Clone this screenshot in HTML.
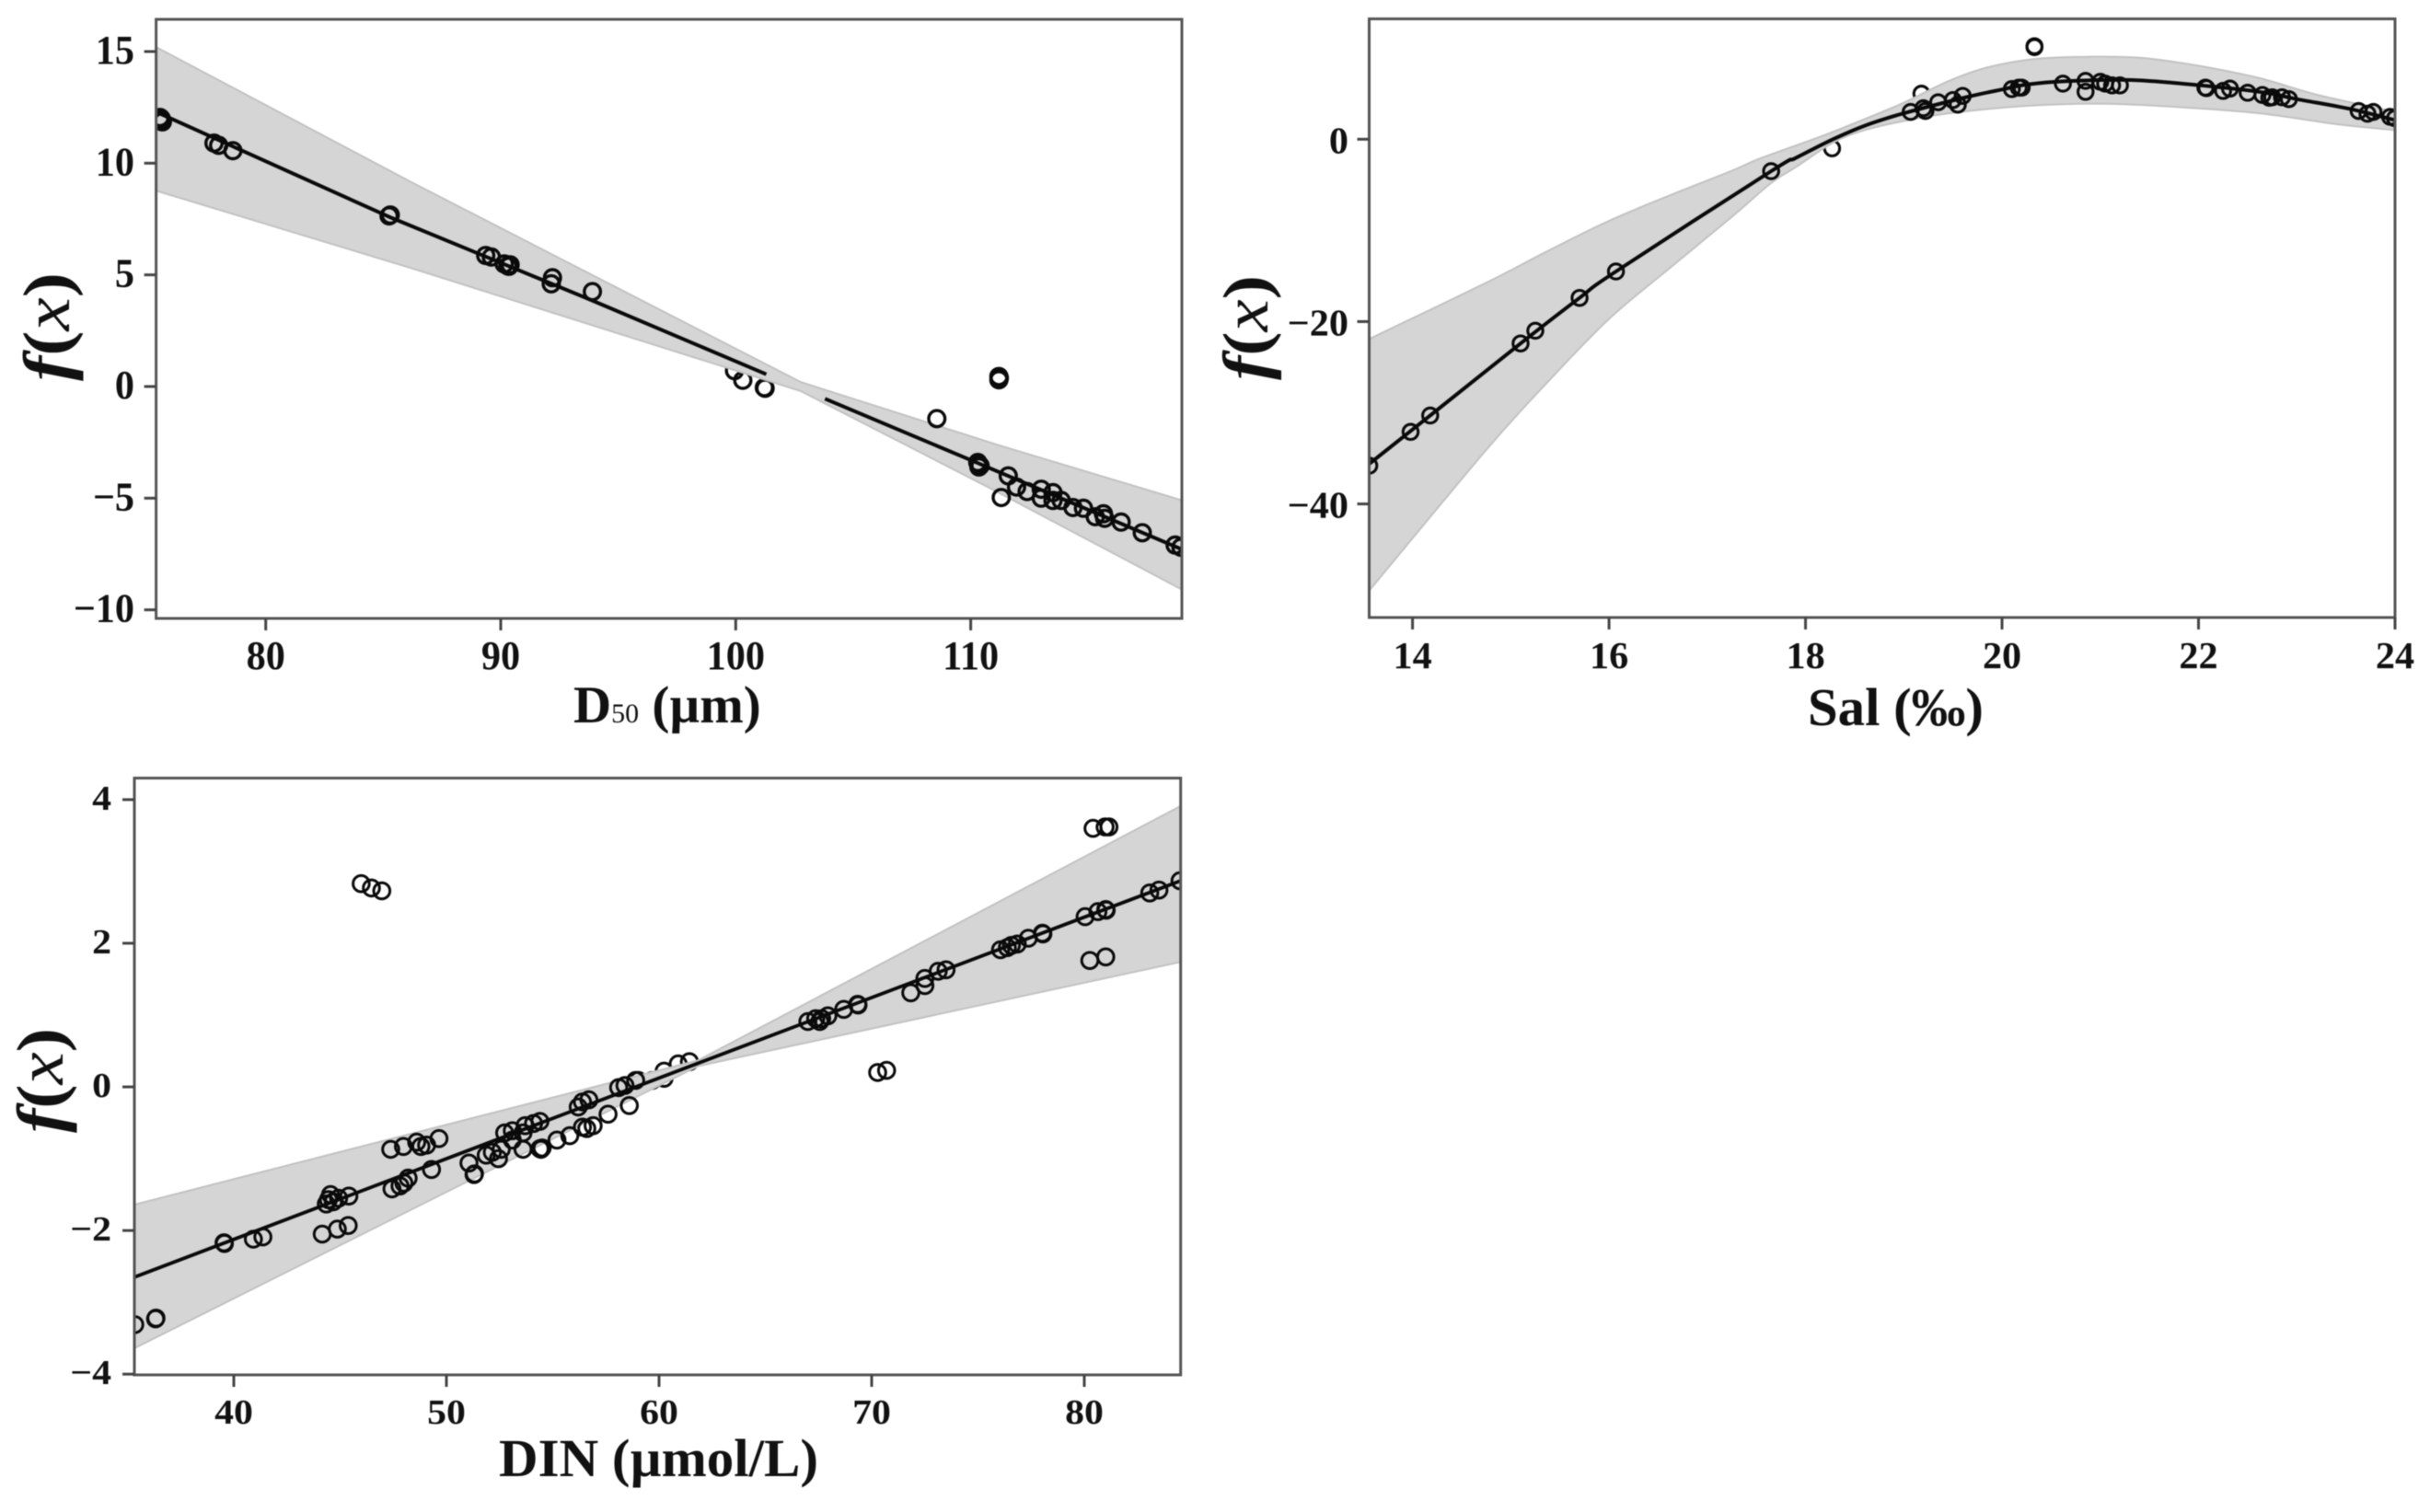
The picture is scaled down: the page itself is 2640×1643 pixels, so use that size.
<!DOCTYPE html>
<html lang="en">
<head>
<meta charset="utf-8">
<title>Partial effect plots</title>
<style>
html,body{margin:0;padding:0;background:#fff;width:2640px;height:1643px;overflow:hidden}
svg{display:block;filter:blur(0.45px)}
text{font-family:"Liberation Serif","DejaVu Serif",serif;fill:#111}
.axis-title{font-weight:bold}
</style>
</head>
<body>
<svg id="chart" xmlns="http://www.w3.org/2000/svg" width="2640" height="1643" viewBox="0 0 2640 1643">
  <rect width="2640" height="1643" fill="#fff"/>
  <g id="panel-d50"></g>
  <g id="panel-sal"></g>
  <g id="panel-din"></g>

  <text class="axis-title" x="623" y="785" font-size="57">D<tspan font-size="30" font-weight="normal">50</tspan> (µm)</text>
  <text class="axis-title" x="1964" y="788" font-size="58" textLength="191" lengthAdjust="spacingAndGlyphs">Sal (‰)</text>
  <text class="axis-title" x="542" y="1604" font-size="58" textLength="347" lengthAdjust="spacingAndGlyphs">DIN (µmol/L)</text>

  <text class="axis-title" transform="translate(75,414) rotate(-90)" font-size="72" textLength="118" lengthAdjust="spacingAndGlyphs"><tspan font-style="italic">f</tspan>(<tspan font-style="italic" font-weight="normal">x</tspan>)</text>
  <text class="axis-title" transform="translate(1377,413) rotate(-90)" font-size="70" textLength="114" lengthAdjust="spacingAndGlyphs"><tspan font-style="italic">f</tspan>(<tspan font-style="italic" font-weight="normal">x</tspan>)</text>
  <text class="axis-title" transform="translate(68,1231) rotate(-90)" font-size="72" textLength="114" lengthAdjust="spacingAndGlyphs"><tspan font-style="italic">f</tspan>(<tspan font-style="italic" font-weight="normal">x</tspan>)</text>
</svg>

<script>
// ---------- Panel 1: D50 ----------
const d50XTicks = [80, 90, 100, 110];
const d50YTicks = [-10, -5, 0, 5, 10, 15];
const d50UpperX = [75.33, 86.2, 102.76, 111.1, 119];
const d50UpperY = [15.2, 9.15, 0.2, -2.6, -5.1];
const d50LowerX = [75.33, 86.2, 102.76, 111.1, 119];
const d50LowerY = [8.77, 5.3, -0.2, -4.7, -9.1];
const d50LineX = [75.33, 85.25, 93.9, 101.3, null, 103.8, 110.35, 119];
const d50LineY = [12.3, 7.6, 3.85, 0.55, null, -0.55, -3.45, -7.3];
const d50UnderPoints = [[99.95,0.71],[100.3,0.28],[101.25,-0.08],[101.22,-0.05]];
const d50Points = [
  [75.5,11.9],[75.55,12],[75.6,11.85],[75.5,12.05],[77.8,10.9],[78,10.8],[78.6,10.56],
  [85.25,7.64],[85.3,7.68],[89.36,5.87],[89.6,5.8],[90.15,5.49],[90.3,5.4],[90.4,5.45],[90.35,5.38],
  [92.2,4.87],[92.15,4.6],[93.9,4.25],
  [108.56,-1.44],[111.2,0.45],[111.2,0.3],[111.22,0.38],[111.3,-4.97],
  [110.3,-3.4],[110.35,-3.5],[110.4,-3.55],[110.35,-3.6],[111.6,-4],[111.95,-4.5],[112.4,-4.7],
  [113,-4.6],[113,-5],[113.5,-4.75],[113.5,-5.1],[113.85,-5.1],[114.35,-5.42],[114.8,-5.45],
  [115.3,-5.83],[115.65,-5.7],[115.7,-5.9],[116.4,-6.07],[117.3,-6.55],[118.7,-7.1],[118.95,-7.2]
];

// ---------- Panel 2: Salinity ----------
const salXTicks = [14, 16, 18, 20, 22, 24];
const salYTicks = [-40, -20, 0];
const salUpperX = [13.56, 14.74, 15.36, 15.99, 16.61, 17.24, 17.54, 18.17, 18.6, 19, 19.46, 19.86, 20.33, 20.89, 21.44, 22.03, 22.62, 23.2, 24];
const salUpperY = [-21.9, -15.8, -12.35, -9, -6.2, -3.5, -2.1, 0.35, 2.2, 4, 6.4, 7.9, 8.8, 9.04, 8.9, 8, 6.7, 4.9, 3];
const salLowerX = [13.56, 14.74, 15.36, 16, 16.61, 17.24, 17.65, 17.9, 18.28, 18.6, 19, 19.46, 20.25, 21.05, 21.83, 22.62, 23.41, 24];
const salLowerY = [-49.5, -34.2, -26.8, -19.7, -14.2, -8.6, -4.8, -3.07, -0.37, 1, 2, 2.85, 3.66, 3.9, 3.5, 2.85, 1.65, 1];
const salLineX = [13.56, 14.18, 15.1, 15.7, 16.07, 17.65, 17.9, 18.28, 18.6, 19, 19.66, 20.02, 20.25, 20.65, 21.28, 21.83, 22.62, 23, 23.53, 24];
const salLineY = [-35.6, -30.3, -22.4, -17.4, -14.5, -3.5, -2.06, 0, 1.47, 2.85, 4.67, 5.5, 6, 6.37, 6.5, 6.1, 5.2, 4.4, 3.35, 2.1];
const salUnderPoints = [[18.27,-1],[19.18,5]];
const salPoints = [
  [13.56,-35.8],[13.98,-32.1],[14.18,-30.3],[15.1,-22.4],[15.25,-21],[15.7,-17.4],[16.07,-14.5],
  [17.65,-3.5],[19.07,3],[19.2,3.4],[19.22,3.1],[19.35,4.06],[19.5,4.3],[19.55,3.8],[19.6,4.75],
  [20.1,5.5],[20.17,5.66],[20.2,5.66],[20.33,10.2],[20.33,10.1],[20.62,6.1],[20.85,6.4],[20.85,5.2],
  [21,6.3],[21.05,6.1],[21.12,5.9],[21.2,5.9],[22.07,5.66],[22.08,5.6],[22.25,5.3],[22.32,5.55],
  [22.5,5.1],[22.65,4.85],[22.75,4.6],[22.72,4.55],[22.85,4.6],[22.92,4.4],
  [23.63,3.1],[23.72,2.8],[23.78,3],[23.95,2.45],[24,2.3]
];

// ---------- Panel 3: DIN ----------
const dinXTicks = [40, 50, 60, 70, 80];
const dinYTicks = [-4, -2, 0, 2, 4];
const dinUpperX = [35.32, 61.84, 84.53];
const dinUpperY = [-1.64, 0.37, 3.91];
const dinLowerX = [35.32, 61.84, 84.53];
const dinLowerY = [-3.64, 0.29, 1.74];
const dinLineX = [35.32, 61.84, 84.53];
const dinLineY = [-2.65, 0.33, 2.87];
const dinUnderPoints = [[59.02,0.09],[59.68,0.09],[60.24,0.22],[60.24,0.12],[60.9,0.32],[61.43,0.35]];
const dinPoints = [
  [35.34,-3.31],[36.32,-3.23],[36.34,-3.22],[39.54,-2.17],[39.56,-2.18],[40.92,-2.12],[41.37,-2.09],
  [44.16,-2.05],[44.87,-1.98],[45.38,-1.93],[44.45,-1.57],[44.55,-1.5],[44.68,-1.6],[44.93,-1.55],[45.41,-1.52],[44.35,-1.63],
  [45.99,2.83],[46.47,2.77],[46.96,2.73],
  [47.38,-0.87],[47.98,-0.83],[48.6,-0.77],[48.8,-0.83],[49.07,-0.81],[49.65,-0.72],
  [47.44,-1.42],[47.82,-1.38],[48,-1.34],[48.2,-1.27],[49.3,-1.15],
  [51.06,-1.06],[51.3,-1.22],[51.32,-1.21],[51.87,-0.95],[52.16,-0.91],[52.45,-1],[52.58,-0.87],[52.74,-0.64],
  [53.1,-0.61],[53.1,-0.74],[53.6,-0.87],[53.7,-0.54],[53.6,-0.64],[54.4,-0.48],[54.1,-0.51],
  [54.4,-0.86],[54.45,-0.87],[54.5,-0.85],[55.2,-0.74],[55.8,-0.68],[56.4,-0.21],[56.7,-0.18],[56.2,-0.28],
  [56.4,-0.56],[56.9,-0.54],[56.6,-0.58],[57.6,-0.38],[58.6,-0.26],[58.1,-0.01],[58.4,0.02],[58.9,0.09],
  [67,0.91],[67.37,0.95],[67.65,0.95],[67.94,0.99],[67.56,0.91],[68.69,1.08],[69.34,1.15],[69.36,1.14],
  [70.28,0.2],[70.7,0.23],[71.84,1.31],[72.5,1.41],[72.5,1.51],[73.13,1.61],[73.5,1.63],
  [76.06,1.91],[76.38,1.94],[76.57,1.97],[76.85,1.99],[77.37,2.07],[78.03,2.14],[78.05,2.13],
  [80.04,2.37],[80.64,2.44],[81.01,2.47],[81.03,2.46],[80.41,3.6],[80.98,3.62],[81.16,3.62],
  [80.26,1.76],[81.01,1.81],[83.08,2.7],[83.51,2.74],[84.5,2.87]
];

const NS = 'http://www.w3.org/2000/svg';

function linearScale(d0, d1, r0, r1) {
  return function (v) { return r0 + (v - d0) * (r1 - r0) / (d1 - d0); };
}

function make(tag, attrs, parent) {
  const el = document.createElementNS(NS, tag);
  for (const k in attrs) el.setAttribute(k, attrs[k]);
  parent.appendChild(el);
  return el;
}

function fmt(v) {
  return v < 0 ? '\u2212' + Math.abs(v) : String(v);
}

// Path commands through pixel points; Catmull-Rom when smooth, straight otherwise.
function pathThrough(pts, smooth, continuing) {
  let d = (continuing ? 'L' : 'M') + pts[0][0].toFixed(1) + ' ' + pts[0][1].toFixed(1);
  for (let i = 1; i < pts.length; i++) {
    const p1 = pts[i - 1];
    const p2 = pts[i];
    if (!smooth) {
      d += 'L' + p2[0].toFixed(1) + ' ' + p2[1].toFixed(1);
      continue;
    }
    const p0 = pts[i - 2] || p1;
    const p3 = pts[i + 1] || p2;
    const c1x = p1[0] + (p2[0] - p0[0]) / 6;
    const c1y = p1[1] + (p2[1] - p0[1]) / 6;
    const c2x = p2[0] - (p3[0] - p1[0]) / 6;
    const c2y = p2[1] - (p3[1] - p1[1]) / 6;
    d += 'C' + c1x.toFixed(1) + ' ' + c1y.toFixed(1) + ' ' + c2x.toFixed(1) + ' ' + c2y.toFixed(1) + ' ' + p2[0].toFixed(1) + ' ' + p2[1].toFixed(1);
  }
  return d;
}

function drawPanel(cfg) {
  const root = document.getElementById(cfg.id);
  const box = cfg.box;
  const x = cfg.xScale;
  const y = cfg.yScale;
  const clipId = cfg.id + '-clip';

  const defs = make('defs', {}, root);
  const clip = make('clipPath', { id: clipId }, defs);
  make('rect', { x: box.l, y: box.t, width: box.r - box.l, height: box.b - box.t }, clip);

  const plot = make('g', { 'clip-path': 'url(#' + clipId + ')' }, root);

  function drawPoint(p) {
    const c = make('circle', { cx: x(p[0]).toFixed(1), cy: y(p[1]).toFixed(1), r: cfg.radius, fill: 'none', stroke: '#0a0a0a', 'stroke-width': cfg.pointStroke }, plot);
    
    
  }

  // points partly covered by the band are drawn beneath it
  cfg.underPoints.forEach(drawPoint);

  // confidence band
  const upperPts = cfg.upperX.map(function (v, i) { return [x(v), y(cfg.upperY[i])]; });
  const lowerPts = cfg.lowerX.map(function (v, i) { return [x(v), y(cfg.lowerY[i])]; }).reverse();
  const bandPath = pathThrough(upperPts, cfg.smooth, false) + pathThrough(lowerPts, cfg.smooth, true) + 'Z';
  const band = make('path', { d: bandPath, fill: '#d5d5d5', stroke: '#c2c2c2', 'stroke-width': 2 }, plot);
  
  

  // fitted curve (null entries break the line)
  let ld = '';
  let seg = [];
  cfg.lineX.forEach(function (v, i) {
    if (v === null) {
      ld += pathThrough(seg, cfg.smooth, false);
      seg = [];
      return;
    }
    seg.push([x(v), y(cfg.lineY[i])]);
  });
  ld += pathThrough(seg, cfg.smooth, false);
  const line = make('path', { d: ld, fill: 'none', stroke: '#0a0a0a', 'stroke-width': cfg.lineWidth, 'stroke-linejoin': 'round' }, plot);
  
  

  // partial residual points
  cfg.points.forEach(drawPoint);

  // frame
  const frame = make('rect', { x: box.l, y: box.t, width: box.r - box.l, height: box.b - box.t, fill: 'none', stroke: '#555', 'stroke-width': 3 }, root);
  
  

  // x ticks
  cfg.xTicks.forEach(function (v) {
    const tick = make('line', { x1: x(v), x2: x(v), y1: box.b, y2: box.b + 13, stroke: '#444', 'stroke-width': 3 }, root);
    
    
    const label = make('text', {
      transform: 'translate(' + x(v) + ',' + cfg.xLabelY + ') scale(' + cfg.sx + ',1)',
      'text-anchor': 'middle', 'font-size': cfg.fontSize, 'font-weight': 'bold'
    }, root);
    label.textContent = fmt(v);
    
    
  });

  // y ticks
  cfg.yTicks.forEach(function (v) {
    const tick = make('line', { x1: box.l - 13, x2: box.l, y1: y(v), y2: y(v), stroke: '#444', 'stroke-width': 3 }, root);
    
    
    const label = make('text', {
      transform: 'translate(' + cfg.yLabelX + ',' + (y(v) + cfg.yLabelDy) + ') scale(' + cfg.sx + ',1)',
      'text-anchor': 'end', 'font-size': cfg.fontSize, 'font-weight': 'bold'
    }, root);
    label.textContent = fmt(v);
    
    
  });
}

drawPanel({
  id: 'panel-d50',
  box: { l: 169.6, r: 1284, t: 21, b: 672 },
  xScale: linearScale(80, 110, 288.7, 1054.6),
  yScale: linearScale(0, 15, 420, 56),
  xTicks: d50XTicks, yTicks: d50YTicks,
  upperX: d50UpperX, upperY: d50UpperY, lowerX: d50LowerX, lowerY: d50LowerY,
  lineX: d50LineX, lineY: d50LineY, points: d50Points, underPoints: d50UnderPoints,
  smooth: false, lineWidth: 4, radius: 8.8, pointStroke: 3.4,
  fontSize: 44, sx: 0.96, xLabelY: 727, yLabelX: 146, yLabelDy: 13
});

drawPanel({
  id: 'panel-sal',
  box: { l: 1487.5, r: 2602, t: 20.5, b: 671 },
  xScale: linearScale(14, 24, 1534.6, 2602),
  yScale: linearScale(0, -40, 151.3, 547.6),
  xTicks: salXTicks, yTicks: salYTicks,
  upperX: salUpperX, upperY: salUpperY, lowerX: salLowerX, lowerY: salLowerY,
  lineX: salLineX, lineY: salLineY, points: salPoints, underPoints: salUnderPoints,
  smooth: true, lineWidth: 4, radius: 8.2, pointStroke: 3.1,
  fontSize: 41, sx: 1.03, xLabelY: 726, yLabelX: 1465, yLabelDy: 15
});

drawPanel({
  id: 'panel-din',
  box: { l: 146, r: 1282.7, t: 845.5, b: 1494 },
  xScale: linearScale(40, 80, 254, 1178),
  yScale: linearScale(-4, 4, 1493.2, 868.9),
  xTicks: dinXTicks, yTicks: dinYTicks,
  upperX: dinUpperX, upperY: dinUpperY, lowerX: dinLowerX, lowerY: dinLowerY,
  lineX: dinLineX, lineY: dinLineY, points: dinPoints, underPoints: dinUnderPoints,
  smooth: false, lineWidth: 3.8, radius: 8.8, pointStroke: 3,
  fontSize: 38, sx: 1.1, xLabelY: 1547, yLabelX: 121, yLabelDy: 11
});
</script>
</body>
</html>
